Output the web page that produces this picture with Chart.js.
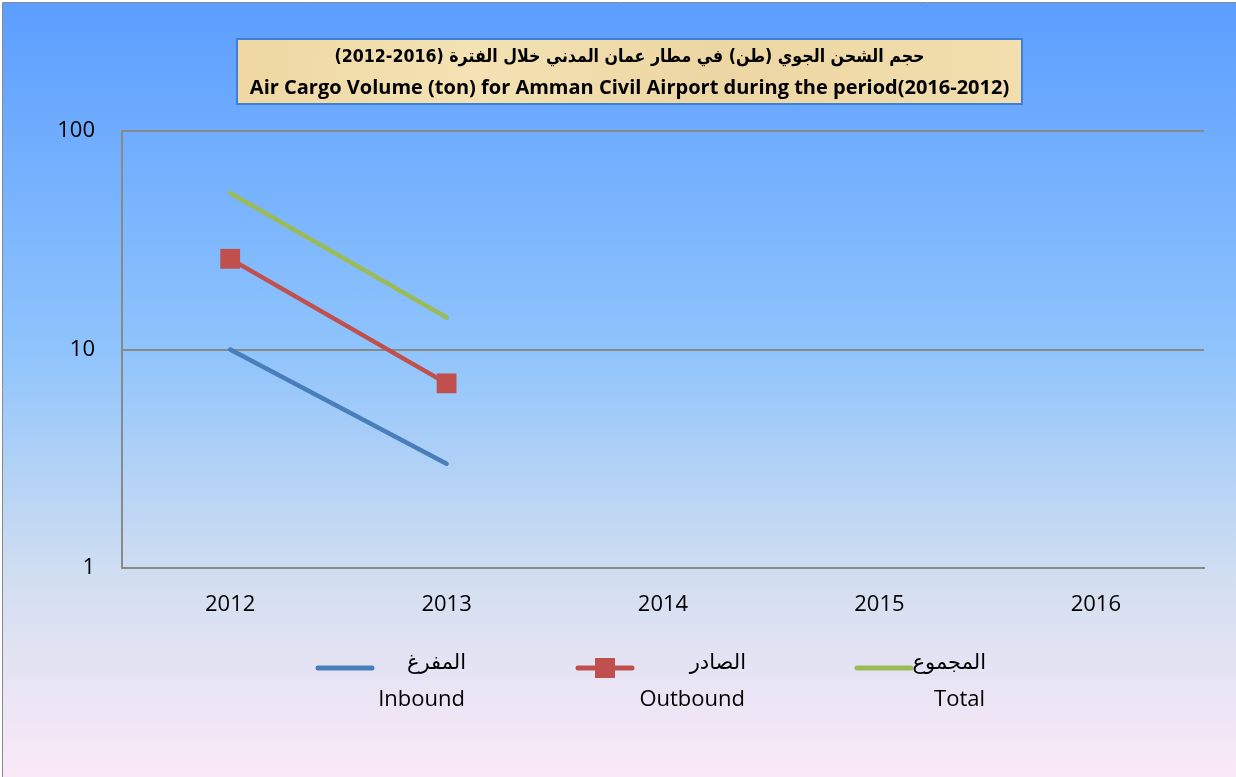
<!DOCTYPE html>
<html>
<head>
<meta charset="utf-8">
<script src="https://cdn.jsdelivr.net/npm/chart.js@4"></script>
<style>
  html, body { margin: 0; padding: 0; background: #fff; }
  canvas { display: block; }
</style>
</head>
<body>
<canvas id="chart" width="1236" height="777"></canvas>
<script>
// Data
const years = ['2012', '2013', '2014', '2015', '2016'];
const inbound = [10, 3, null, null, null];
const outbound = [26, 7, null, null, null];
const total = [52, 14, null, null, null];
const yTicks = [1, 10, 100];

const titleAr = 'حجم الشحن الجوي (طن) في مطار عمان المدني خلال الفترة (2016-2012)';
const titleEn = 'Air Cargo Volume (ton) for Amman Civil Airport during the period(2016-2012)';
const namesAr = ['المفرغ', 'الصادر', 'المجموع'];
const namesEn = ['Inbound', 'Outbound', 'Total'];

const colors = ['#4a7ebb', '#c0504d', '#9bbb59'];
const gridColor = '#898989';
const baseFont = '"Open Sans", "DejaVu Sans", sans-serif';
const arFont = '"DejaVu Sans", sans-serif';

// Page background: gradient panel with thin grey frame
const backgroundPlugin = {
    id: 'panelBackground',
    beforeDraw(chart) {
        const ctx = chart.ctx;
        const w = chart.width, h = chart.height;
        ctx.save();
        ctx.fillStyle = '#ffffff';
        ctx.fillRect(0, 0, w, h);
        const grad = ctx.createLinearGradient(0, 3, 0, h);
        grad.addColorStop(0, '#5c9eff');
        grad.addColorStop(0.45, '#8fc4fc');
        grad.addColorStop(0.75, '#d3dff0');
        grad.addColorStop(1, '#fbe9f8');
        ctx.fillStyle = grad;
        ctx.fillRect(3, 3, w - 3, h - 3);
        ctx.strokeStyle = '#8a8a8a';
        ctx.lineWidth = 1;
        ctx.beginPath();
        ctx.moveTo(2.5, h);
        ctx.lineTo(2.5, 2.5);
        ctx.lineTo(w, 2.5);
        ctx.stroke();
        ctx.restore();
    }
};

// Boxed two-line title (Arabic + English)
const titleBoxPlugin = {
    id: 'titleBox',
    afterDraw(chart) {
        const ctx = chart.ctx;
        const x = 237, y = 39, w = 785, h = 65;
        ctx.save();
        const g = ctx.createLinearGradient(x, y, x + w, y + h);
        g.addColorStop(0, '#eed7a2');
        g.addColorStop(0.3, '#f4e2b4');
        g.addColorStop(0.6, '#ecd6a3');
        g.addColorStop(1, '#f2deae');
        ctx.fillStyle = g;
        ctx.fillRect(x, y, w, h);
        ctx.strokeStyle = '#3f7fd6';
        ctx.lineWidth = 2;
        ctx.strokeRect(x, y, w, h);

        ctx.fillStyle = '#000';
        ctx.textAlign = 'center';
        ctx.textBaseline = 'middle';
        ctx.direction = 'rtl';
        ctx.font = 'bold 18px ' + arFont;
        ctx.fillText(titleAr, x + w / 2, 57, 590);
        ctx.direction = 'ltr';
        ctx.font = 'bold 20px ' + baseFont;
        ctx.fillText(titleEn, x + w / 2, 88, 772);
        ctx.restore();
    }
};

// Two-line legend under the x axis
const legendPlugin = {
    id: 'twoLineLegend',
    afterDraw(chart) {
        const ctx = chart.ctx;
        const items = [
            { lineFrom: 318, lineTo: 372, textRight: 466 },
            { lineFrom: 578, lineTo: 632, textRight: 746 },
            { lineFrom: 857, lineTo: 911, textRight: 986 }
        ];
        ctx.save();
        chart.data.datasets.forEach((ds, i) => {
            const it = items[i];
            ctx.strokeStyle = ds.borderColor;
            ctx.lineWidth = 5;
            ctx.lineCap = 'round';
            ctx.beginPath();
            ctx.moveTo(it.lineFrom, 668);
            ctx.lineTo(it.lineTo, 668);
            ctx.stroke();
            if (ds.pointRadius > 0) {
                ctx.fillStyle = ds.pointBackgroundColor;
                const mid = (it.lineFrom + it.lineTo) / 2;
                ctx.fillRect(mid - 10, 658, 20, 20);
            }
            ctx.fillStyle = '#000';
            ctx.textAlign = 'right';
            ctx.textBaseline = 'middle';
            ctx.direction = 'rtl';
            ctx.font = '21px ' + arFont;
            ctx.fillText(namesAr[i], it.textRight, 664);
            ctx.direction = 'ltr';
            ctx.font = '22px ' + baseFont;
            ctx.fillText(namesEn[i], it.textRight - 1, 700);
        });
        ctx.restore();
    }
};

const ctx = document.getElementById('chart').getContext('2d');
new Chart(ctx, {
    type: 'line',
    data: {
        labels: years,
        datasets: [
            {
                label: namesEn[0],
                data: inbound,
                borderColor: colors[0],
                borderWidth: 4.5,
                pointRadius: 0,
                borderCapStyle: 'round'
            },
            {
                label: namesEn[1],
                data: outbound,
                borderColor: colors[1],
                borderWidth: 4.5,
                pointStyle: 'rect',
                pointRadius: 14,
                pointHoverRadius: 14,
                pointBackgroundColor: colors[1],
                pointBorderColor: colors[1],
                pointBorderWidth: 0,
                borderCapStyle: 'round'
            },
            {
                label: namesEn[2],
                data: total,
                borderColor: colors[2],
                borderWidth: 4.5,
                pointRadius: 0,
                borderCapStyle: 'round'
            }
        ]
    },
    options: {
        responsive: false,
        devicePixelRatio: 1,
        animation: false,
        layout: {
            padding: { left: 22, right: 32, top: 131, bottom: 149 }
        },
        plugins: {
            legend: { display: false },
            title: { display: false },
            tooltip: { enabled: false }
        },
        scales: {
            x: {
                offset: true,
                afterFit(scale) { scale.height = 60; },
                grid: { display: false, drawTicks: false },
                border: { display: true, color: gridColor, width: 2 },
                ticks: {
                    color: '#000',
                    padding: 24,
                    font: { family: baseFont, size: 22 }
                }
            },
            y: {
                type: 'logarithmic',
                min: 1,
                max: 100,
                afterFit(scale) { scale.width = 100; },
                afterBuildTicks(scale) {
                    scale.ticks = yTicks.map(v => ({ value: v }));
                },
                grid: { color: gridColor, lineWidth: 2, drawTicks: false },
                border: { display: true, color: gridColor, width: 2 },
                ticks: {
                    color: '#000',
                    padding: 27,
                    font: { family: baseFont, size: 22 },
                    callback: v => String(v)
                }
            }
        }
    },
    plugins: [backgroundPlugin, titleBoxPlugin, legendPlugin]
});
</script>
</body>
</html>
